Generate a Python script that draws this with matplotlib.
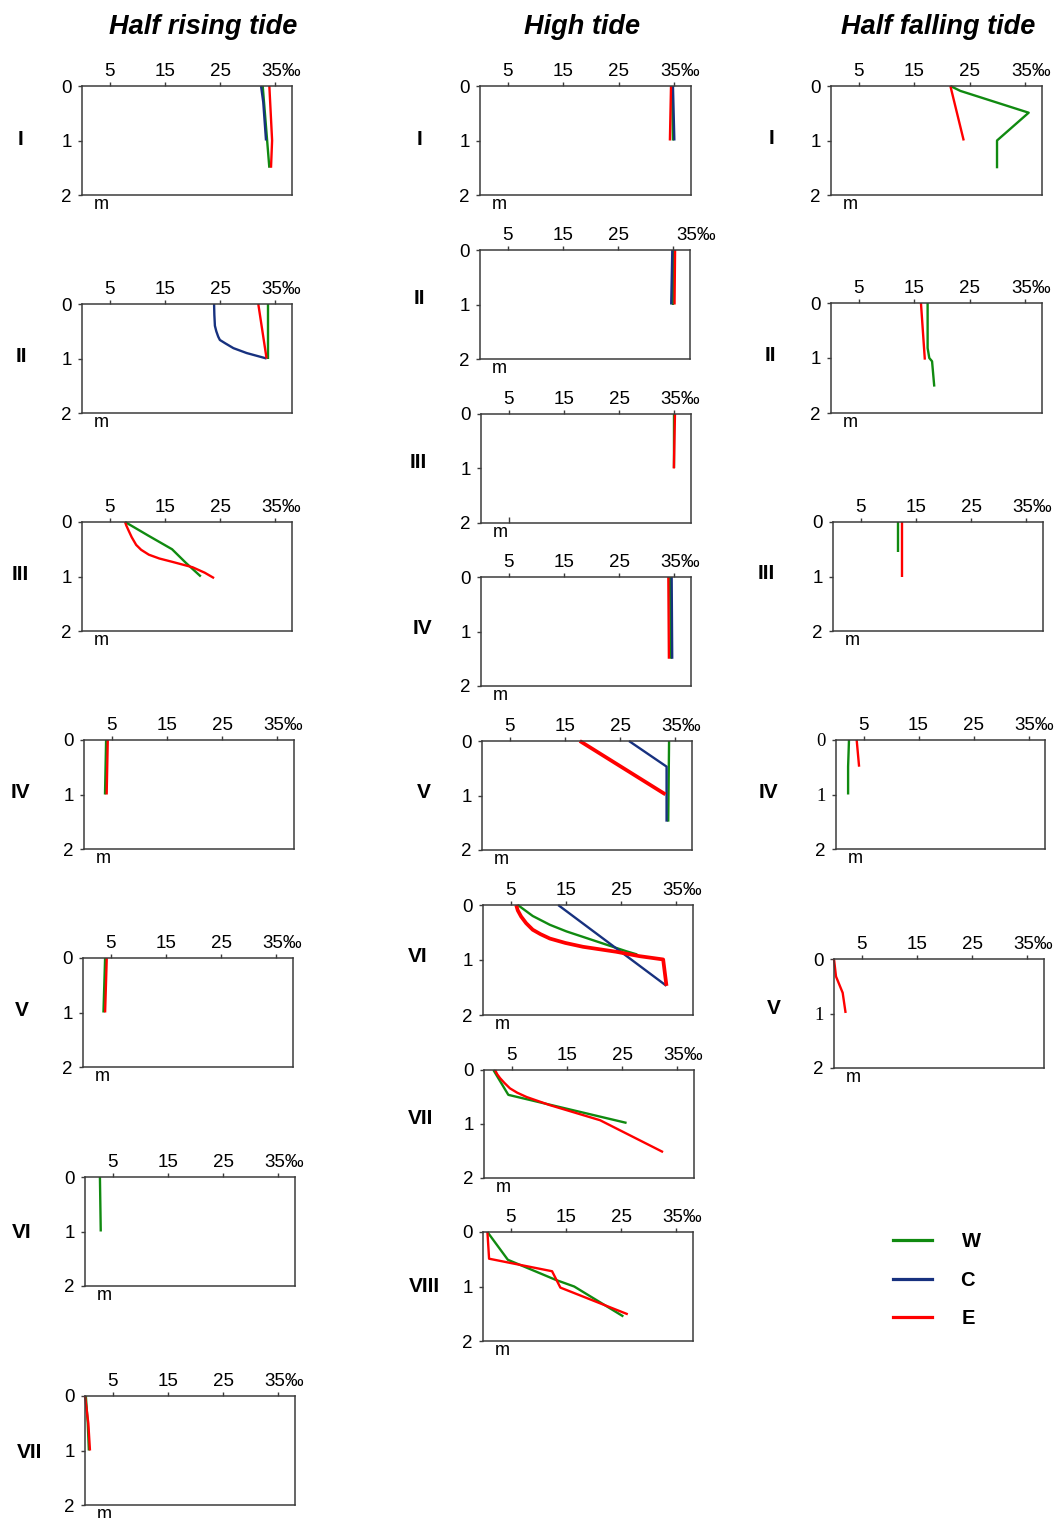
import matplotlib
matplotlib.use('Agg')
import matplotlib.pyplot as plt
from matplotlib.lines import Line2D
from matplotlib.transforms import ScaledTranslation

W, H = 1059, 1518
plt.rcParams['font.family'] = ['Liberation Sans', 'DejaVu Sans']

# ---------------- data ----------------
series_keys = ['W', 'C', 'E']
series_colors = {'W': '#108a10', 'C': '#17317f', 'E': '#ff0000'}
sal_ticks = [5, 15, 25]
sal_last_tick = 35
sal_last_label = '35‰'
depth_ticks = [0, 1, 2]
depth_tick_labels = ['0', '1', '2']
column_titles = ['Half rising tide', 'High tide', 'Half falling tide']
stations_rise = ['I', 'II', 'III', 'IV', 'V', 'VI', 'VII']
stations_high = ['I', 'II', 'III', 'IV', 'V', 'VI', 'VII', 'VIII']
stations_fall = ['I', 'II', 'III', 'IV', 'V']

# each series: (depth m, salinity ‰)
rise_I = {'W': ([0, 1.0, 1.5], [32.7, 33.5, 33.9]),
          'C': ([0, 0.3, 1.0], [32.4, 32.8, 33.3]),
          'E': ([0, 1.0, 1.5], [33.9, 34.4, 34.2])}
rise_II = {'W': ([0, 1.0], [33.7, 33.7]),
           'C': ([0, 0.2, 0.4, 0.5, 0.6, 0.66, 0.72, 0.81, 0.9, 1.0],
                 [23.9, 23.95, 24.05, 24.3, 24.65, 24.95, 25.9, 27.4, 29.8, 33.4]),
           'E': ([0, 1.0], [31.9, 33.4])}
rise_III = {'W': ([0, 0.25, 0.5, 0.6, 0.75, 1.0], [7.8, 12.0, 16.3, 17.3, 18.8, 21.5]),
            'E': ([0, 0.06, 0.15, 0.28, 0.42, 0.51, 0.6, 0.67, 0.73, 0.83, 0.93, 1.03],
                  [7.8, 8.0, 8.4, 9.0, 9.8, 10.7, 12.1, 14.0, 16.3, 20.0, 22.2, 23.9])}
rise_IV = {'W': ([0, 1.0], [4.0, 3.8]),
           'E': ([0, 1.0], [4.3, 4.1])}
rise_V = {'W': ([0, 1.0], [4.0, 3.7]),
          'E': ([0, 1.0], [4.3, 4.0])}
rise_VI = {'W': ([0, 1.0], [2.7, 2.85])}
rise_VII = {'W': ([0, 0.5, 1.0], [0.15, 0.5, 0.7]),
            'E': ([0, 0.5, 1.0], [0.0, 0.6, 0.9])}

high_I = {'W': ([0, 1.0], [34.6, 34.75]),
          'C': ([0, 1.0], [34.75, 35.0]),
          'E': ([0, 1.0], [34.4, 34.2])}
high_II = {'W': ([0, 1.0], [35.0, 35.0]),
           'C': ([0, 1.0], [34.8, 34.6]),
           'E': ([0, 1.0], [35.3, 35.2])}
high_III = {'W': ([0, 1.0], [35.0, 35.0]),
            'E': ([0, 1.0], [35.1, 34.9])}
high_IV = {'W': ([0, 1.5], [34.2, 34.4]),
           'C': ([0, 1.5], [34.5, 34.6]),
           'E': ([0, 1.5], [33.9, 34.0])}
high_V = {'W': ([0, 1.48], [33.85, 33.7]),
          'C': ([0, 0.47, 1.48], [26.6, 33.4, 33.4]),
          'E': ([0, 0.98], [17.7, 33.2])}
high_VI = {'W': ([0, 0.2, 0.36, 0.48, 0.6, 0.72, 0.84, 0.9],
                 [6.3, 9.0, 12.1, 15.1, 18.7, 22.3, 25.9, 27.9]),
           'C': ([0, 1.47], [13.6, 33.2]),
           'E': ([0, 0.1, 0.21, 0.33, 0.45, 0.53, 0.61, 0.69, 0.76, 0.85, 0.93, 0.99, 1.47],
                 [6.0, 6.3, 6.9, 7.8, 9.0, 10.4, 12.1, 14.9, 18.1, 24.1, 28.3, 32.6, 33.2])}
high_VII = {'W': ([0, 0.46, 0.98], [1.7, 4.4, 25.8]),
            'E': ([0, 0.08, 0.15, 0.24, 0.34, 0.42, 0.5, 0.65, 0.93, 1.52],
                  [2.0, 2.4, 2.9, 3.7, 4.7, 6.0, 7.7, 11.9, 21.0, 32.4])}
high_VIII = {'W': ([0, 0.51, 0.88, 1.0, 1.55], [0.8, 4.5, 13.2, 16.5, 25.4]),
             'E': ([0, 0.49, 0.72, 1.02, 1.51], [0.8, 1.1, 12.5, 14.0, 26.2])}

fall_I = {'W': ([0, 0.09, 0.49, 1.0, 1.51], [21.5, 23.3, 35.6, 29.9, 29.9]),
          'E': ([0, 1.0], [21.5, 23.9])}
fall_II = {'W': ([0, 0.82, 1.0, 1.06, 1.52], [17.4, 17.4, 17.7, 18.2, 18.6]),
           'E': ([0, 1.03], [16.2, 16.9])}
fall_III = {'W': ([0, 0.55], [11.7, 11.7]),
            'E': ([0, 1.0], [12.5, 12.5])}
fall_IV = {'W': ([0, 0.49, 1.0], [2.36, 2.2, 2.2]),
           'E': ([0, 0.49], [3.76, 4.2])}
fall_V = {'E': ([0, 0.32, 0.62, 0.99], [0.0, 0.36, 1.57, 2.1])}

# ---------------- layout (pixels: left, top, right, bottom) ----------------
rise_rects = [(82, 86, 292, 195), (82, 304, 292, 413), (82, 522, 292, 631),
              (84, 740, 294, 849), (83, 958, 293, 1067), (85, 1177, 295, 1286),
              (85, 1396, 295, 1505)]
rise_labels_xy = [(20.5, 137.5), (21, 354), (20.5, 573), (20, 791), (22, 1008),
                  (21.5, 1230), (30, 1450)]
high_rects = [(480, 86, 691, 195), (480, 250, 690, 359), (481, 414, 691, 523),
              (481, 577, 691, 686), (482, 741, 692, 850), (483, 905, 693, 1015),
              (484, 1070, 694, 1178), (483, 1232, 693, 1341)]
high_labels_xy = [(419.5, 137.5), (419, 297), (418, 461), (422, 626), (424, 791),
                  (418, 954), (421, 1116), (424, 1285)]
fall_rects = [(831, 86, 1042, 195), (831, 303, 1042, 413), (833, 522, 1043, 631),
              (836, 740, 1045, 849), (834, 959, 1044, 1068)]
fall_labels_xy = [(772, 137), (770, 353.5), (766, 571), (768, 791), (774, 1007)]

SPINE = '#3c3c3c'
TICK_FS = 13.5
fig = plt.figure(figsize=(W / 100, H / 100), dpi=100)


def panel(rect, data, label, label_xy, thick_red=False, last_dx=-14,
          serif_y=(), bottom_tick=False):
    l, t, r, b = rect
    ax = fig.add_axes([l / W, 1 - b / H, (r - l) / W, (b - t) / H])
    ax.set_xlim(0, 38)
    ax.set_ylim(2, 0)
    ax.xaxis.tick_top()
    ax.set_xticks(sal_ticks + [sal_last_tick])
    ax.set_xticklabels([str(v) for v in sal_ticks] + [''])
    ax.set_yticks(depth_ticks)
    ax.set_yticklabels(depth_tick_labels)
    ax.tick_params(axis='both', direction='out', length=3, width=1.0,
                   color=SPINE, labelsize=TICK_FS)
    ax.tick_params(axis='x', pad=1.2)
    ax.tick_params(axis='y', pad=4.5)
    for s in ax.spines.values():
        s.set_color(SPINE)
        s.set_linewidth(1.1)
    for i, lab in enumerate(ax.get_yticklabels()):
        if i in serif_y:
            lab.set_fontfamily(['Liberation Serif', 'DejaVu Serif'])
    trans = ax.get_xaxis_transform() + ScaledTranslation(last_dx / 100, 4.2 / 72,
                                                         fig.dpi_scale_trans)
    ax.text(sal_last_tick, 1.0, sal_last_label, transform=trans, ha='left',
            va='bottom', fontsize=TICK_FS)
    ax.text(0.092, -0.012, 'm', transform=ax.transAxes, ha='center', va='top',
            fontsize=13)
    if bottom_tick:
        sec = ax.secondary_xaxis('bottom')
        sec.set_xticks([5])
        sec.set_xticklabels([''])
        sec.tick_params(direction='in', length=4, width=1.0, color=SPINE)
        sec.spines['bottom'].set_visible(False)
    for key in series_keys:
        if key in data:
            d, s = data[key]
            lw = 2.7 if (thick_red and key == 'E') else 1.7
            ax.plot(s, d, color=series_colors[key], lw=lw, clip_on=False,
                    solid_joinstyle='round', solid_capstyle='butt')
    lx, ly = label_xy
    fig.text(lx / W, 1 - (ly + 7.5) / H, label, ha='center', va='baseline',
             fontsize=15, fontweight='bold')
    return ax


rise_data = [rise_I, rise_II, rise_III, rise_IV, rise_V, rise_VI, rise_VII]
high_data = [high_I, high_II, high_III, high_IV, high_V, high_VI, high_VII, high_VIII]
fall_data = [fall_I, fall_II, fall_III, fall_IV, fall_V]

for i, st in enumerate(stations_rise):
    panel(rise_rects[i], rise_data[i], st, rise_labels_xy[i])

for i, st in enumerate(stations_high):
    panel(high_rects[i], high_data[i], st, high_labels_xy[i],
          thick_red=(st in ('V', 'VI')),
          last_dx=(3 if st == 'II' else -14),
          bottom_tick=(st == 'III'))

for i, st in enumerate(stations_fall):
    serif = (0, 1) if st == 'IV' else ((1,) if st == 'V' else ())
    panel(fall_rects[i], fall_data[i], st, fall_labels_xy[i], serif_y=serif)

# column titles
for title, cx in zip(column_titles, [203, 582, 938]):
    fig.text(cx / W, 1 - 34 / H, title, ha='center', va='baseline',
             fontsize=19.5, fontweight='bold', fontstyle='italic')

# legend
for key, ly, tx in zip(series_keys, [1240, 1279, 1317], [971, 967, 968]):
    fig.add_artist(Line2D([893 / W, 932 / W], [1 - ly / H, 1 - ly / H],
                          transform=fig.transFigure, color=series_colors[key], lw=2.3))
    fig.text(tx / W, 1 - (ly + 7) / H, key, ha='center', va='baseline',
             fontsize=14.5, fontweight='bold')

fig.savefig('out.png', dpi=100)
